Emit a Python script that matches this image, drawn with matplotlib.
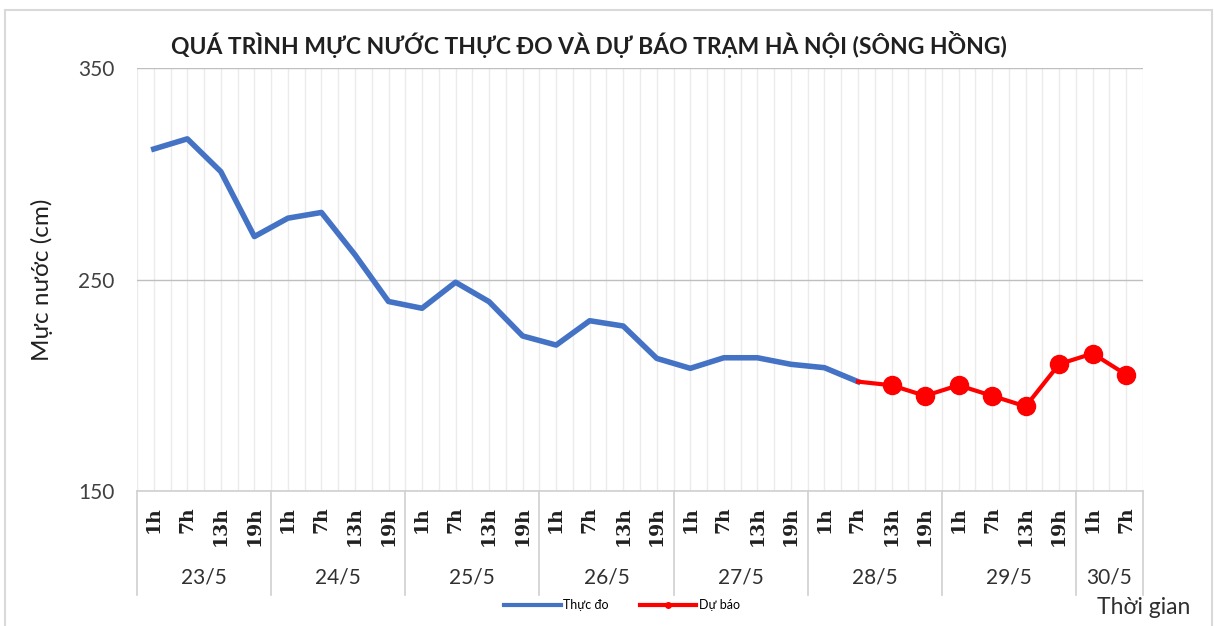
import matplotlib
matplotlib.use("Agg")
import matplotlib.pyplot as plt
from matplotlib.patches import Rectangle
from matplotlib.lines import Line2D

# ---- data ----
dates = ["23/5", "24/5", "25/5", "26/5", "27/5", "28/5", "29/5", "30/5"]
hours_per_date = [["1h", "7h", "13h", "19h"]] * 7 + [["1h", "7h"]]
observed = [311.7, 316.5, 301.0, 270.3, 279.0, 281.7, 261.7, 239.6,
            236.4, 248.7, 239.5, 223.3, 219.0, 230.5, 228.0, 212.7,
            208.0, 213.0, 213.0, 209.9, 208.3, 201.7]
forecast = [200, 195, 200, 195, 190, 210, 215, 205]
title = "QUÁ TRÌNH MỰC NƯỚC THỰC ĐO VÀ DỰ BÁO TRẠM HÀ NỘI (SÔNG HỒNG)"
ylabel = "Mực nước (cm)"
xlabel = "Thời gian"
legend_labels = ["Thực đo", "Dự báo"]
yticks = [150, 250, 350]

hour_labels = [h for hs in hours_per_date for h in hs]
n = len(hour_labels)

W, H = 1214, 626
fig = plt.figure(figsize=(W / 100, H / 100), dpi=100)
fig.patch.set_facecolor("white")

def fx(x): return x / W
def fy(y): return 1 - y / H

# outer frame
fig.add_artist(Rectangle((fx(5), fy(640)), fx(1212) - fx(5), fy(10) - fy(640),
                         transform=fig.transFigure, fill=False,
                         edgecolor="#d9d9d9", linewidth=1.5))

ax = fig.add_axes([fx(137), fy(491), fx(1143) - fx(137), fy(68) - fy(491)])
ax.set_xlim(-0.5, n - 0.5)
ax.set_ylim(150, 350)

# gridlines
for k in range(2 * n + 1):
    xv = -0.5 + k * 0.5
    ax.axvline(xv, color="#ebebeb", linewidth=1.0, zorder=0)
for yv in yticks:
    ax.axhline(yv, color="#bfbfbf", linewidth=1.0, zorder=1)

for s in ax.spines.values():
    s.set_visible(False)
ax.spines["bottom"].set_visible(True)
ax.spines["bottom"].set_color("#d0d0d0")
ax.spines["bottom"].set_linewidth(1.2)

ax.set_yticks(yticks)
ax.set_yticklabels([str(v) for v in yticks], fontsize=15, family="Lato", color="#404040")
ax.tick_params(axis="y", length=0, pad=16)
ax.set_xticks(range(n))
ax.set_xticklabels(hour_labels, rotation=90, fontsize=13.5, family="DejaVu Serif",
                   fontweight="bold", va="top", ha="center", color="#202020")
ax.tick_params(axis="x", length=0, pad=11)

obs_x = list(range(len(observed)))
ax.plot(obs_x, observed, color="#4472C4", linewidth=4.0, solid_joinstyle="round", zorder=3)
fc_x = list(range(len(observed) - 1, len(observed) + len(forecast)))
fc_y = [observed[-1]] + forecast
ax.plot(fc_x, fc_y, color="#FF0000", linewidth=3.0, marker="o", markersize=13,
        markevery=list(range(1, len(fc_y))), zorder=4)

# group separators and date labels
trans = ax.get_xaxis_transform()
start = 0
bounds = [-0.5]
ydate = (fy(578) - fy(491)) / (fy(68) - fy(491))
for d, hs in zip(dates, hours_per_date):
    end = start + len(hs)
    bounds.append(end - 0.5)
    ax.text((start + end - 1) / 2, ydate, d, transform=trans, ha="center", va="center",
            fontsize=15, family="Lato", color="#303030")
    start = end
ybot = (fy(595) - fy(491)) / (fy(68) - fy(491))
for b in bounds:
    ax.add_line(Line2D([b, b], [0, ybot], transform=trans, color="#d0d0d0",
                       linewidth=1.2, clip_on=False))

fig.text(fx(589), fy(45), title, ha="center", va="center", fontsize=16.5,
         fontweight="bold", family="Lato", color="#202020")
fig.text(fx(42), fy(280), ylabel, ha="center", va="center", rotation=90,
         fontsize=17.5, family="Lato", color="#202020")
fig.text(fx(1190), fy(608), xlabel, ha="right", va="center", fontsize=16.5,
         family="Lato", color="#303030")

handles = [Line2D([], [], color="#4472C4", linewidth=3),
           Line2D([], [], color="#FF0000", linewidth=3, marker="o", markersize=4)]
fig.legend(handles, legend_labels, loc="center", bbox_to_anchor=(fx(622), fy(605)),
           ncol=2, frameon=False, handlelength=4.5, handletextpad=0.2,
           columnspacing=2.5, prop={"family": "Lato", "size": 9})

fig.savefig("out.png", dpi=100)
